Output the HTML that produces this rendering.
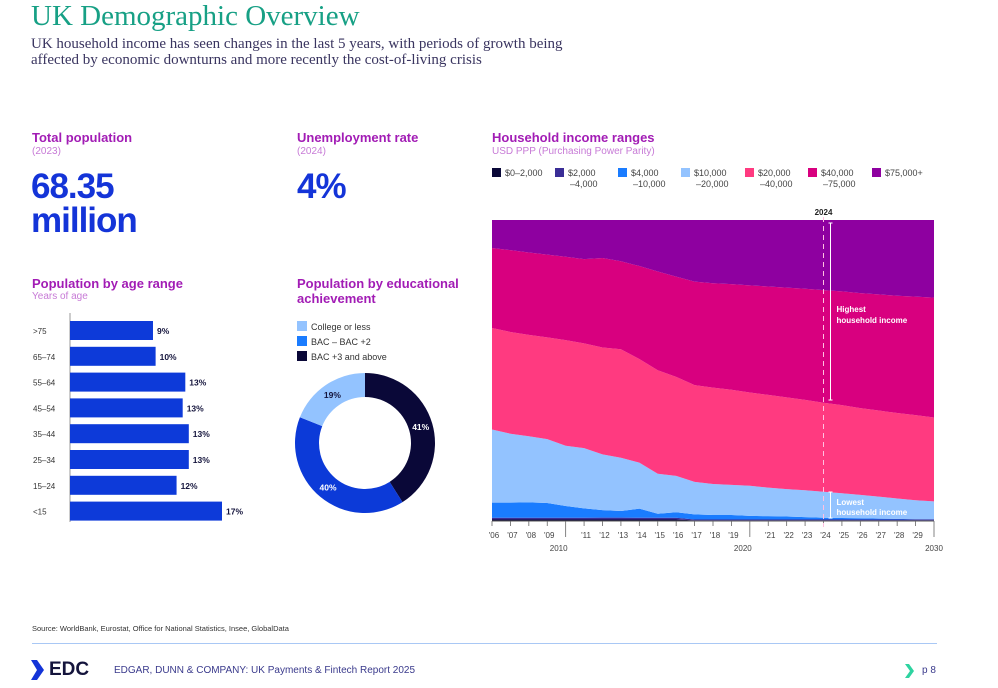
<!DOCTYPE html>
<html><head><meta charset="utf-8">
<style>
body{margin:0;width:998px;height:688px;background:#fff;position:relative;overflow:hidden;font-family:"Liberation Sans",sans-serif}
.a{position:absolute;white-space:nowrap}
.h{color:#a21cb5;font-weight:bold;font-size:13px}
.s{color:#c77ad6;font-size:10px}
.big{color:#1434d8;font-weight:bold;font-size:35px;line-height:34px;letter-spacing:-1px}
</style></head><body>
<div class="a" style="left:31px;top:0px;font-family:'Liberation Serif',serif;font-size:29px;color:#17a085">UK Demographic Overview</div>
<div class="a" style="left:31px;top:36px;font-family:'Liberation Serif',serif;font-size:15px;line-height:16px;color:#3a3560">UK household income has seen changes in the last 5 years, with periods of growth being<br>affected by economic downturns and more recently the cost-of-living crisis</div>

<div class="a h" style="left:32px;top:130px">Total population</div>
<div class="a s" style="left:32px;top:146px">(2023)</div>
<div class="a big" style="left:31px;top:170px">68.35<br>million</div>

<div class="a h" style="left:297px;top:130px">Unemployment rate</div>
<div class="a s" style="left:297px;top:146px">(2024)</div>
<div class="a big" style="left:297px;top:170px">4%</div>

<div class="a h" style="left:32px;top:276px">Population by age range</div>
<div class="a s" style="left:32px;top:291px">Years of age</div>
<svg class="a" id="ageSvg" style="left:0;top:310px" width="270" height="220"></svg>

<div class="a h" style="left:297px;top:276px;line-height:15px">Population by educational<br>achievement</div>
<svg class="a" id="eduSvg" style="left:280px;top:315px" width="180" height="210"></svg>

<div class="a h" style="left:492px;top:130px">Household income ranges</div>
<div class="a s" style="left:492px;top:146px">USD PPP (Purchasing Power Parity)</div>
<svg class="a" id="incSvg" style="left:480px;top:160px" width="480" height="400"></svg>

<div class="a" style="left:32px;top:624px;font-size:7.5px;color:#333">Source: WorldBank, Eurostat, Office for National Statistics, Insee, GlobalData</div>
<div class="a" style="left:32px;top:643px;width:905px;height:1px;background:#a9c8f5"></div>
<svg class="a" style="left:31px;top:660px" width="14" height="20"><polygon points="0,0 6,0 13,10 6,20 0,20 6,10" fill="#1434d8"/></svg>
<div class="a" style="left:49px;top:659px;font-size:19px;font-weight:bold;color:#14143c">EDC</div>
<div class="a" style="left:114px;top:665px;font-size:10px;color:#3a3a8c">EDGAR, DUNN &amp; COMPANY: UK Payments &amp; Fintech Report 2025</div>
<svg class="a" style="left:905px;top:664px" width="10" height="14"><polygon points="0,0 4,0 9,7 4,14 0,14 5,7" fill="#2ed3a0"/></svg>
<div class="a" style="left:922px;top:665px;font-size:10px;color:#3a3a8c">p 8</div>

<script>
const NS='http://www.w3.org/2000/svg';
function mk(p,t,a){const e=document.createElementNS(NS,t);for(const k in a)e.setAttribute(k,a[k]);p.appendChild(e);return e;}

// ---- Age bar chart ----
const ageCats=['>75','65–74','55–64','45–54','35–44','25–34','15–24','<15'];
const ageVals=[9.5,9.8,13.2,12.9,13.6,13.6,12.2,17.4];
const ageLabels=['9%','10%','13%','13%','13%','13%','12%','17%'];
const ageSvg=document.getElementById('ageSvg');
const ax0=70, axScale=152/17.4;
const ageY=i=>11+i*25.8;
let axl=mk(ageSvg,'line',{x1:ax0,y1:3,x2:ax0,y2:212,stroke:'#999','stroke-width':1});


ageCats.forEach((c,i)=>{
  const y=ageY(i),w=ageVals[i]*axScale;
  const r=mk(ageSvg,'rect',{x:ax0,y:y,width:w,height:19,fill:'#0d3ad9'});
  
  
  const t=mk(ageSvg,'text',{x:33,y:y+13,'font-size':8,fill:'#333'});t.textContent=c;
  
  
  const v=mk(ageSvg,'text',{x:ax0+w+4,y:y+13,'font-size':8.5,'font-weight':'bold',fill:'#14143c'});v.textContent=ageLabels[i];
  
  
});

// ---- Education donut ----
const eduCats=['BAC +3 and above','BAC – BAC +2','College or less'];
const eduVals=[41,40,19];
const eduColors=['#0a0838','#0c3ad8','#93c3ff'];
const eduLegendOrder=[2,1,0];
const eduLegendColors=['#93c3ff','#1a7cff','#0a0838'];
const eduSvg=document.getElementById('eduSvg');
eduLegendOrder.forEach((k,j)=>{
  const y=6+j*15;
  const r=mk(eduSvg,'rect',{x:17,y:y,width:10,height:10,fill:eduLegendColors[j]});
  
  
  const t=mk(eduSvg,'text',{x:31,y:y+9,'font-size':9,fill:'#333'});t.textContent=eduCats[k];
  
  
});
const cx=85,cy=128,R=70,r0=46;
let acc=0;const tot=eduVals.reduce((a,b)=>a+b,0);
eduVals.forEach((v,i)=>{
  const a0=acc/tot*2*Math.PI,a1=(acc+v)/tot*2*Math.PI;acc+=v;
  const P=(a,rr)=>[cx+rr*Math.sin(a),cy-rr*Math.cos(a)];
  const [x1,y1]=P(a0,R),[x2,y2]=P(a1,R),[x3,y3]=P(a1,r0),[x4,y4]=P(a0,r0);
  const lg=(a1-a0)>Math.PI?1:0;
  const p=mk(eduSvg,'path',{d:`M${x1},${y1}A${R},${R} 0 ${lg} 1 ${x2},${y2}L${x3},${y3}A${r0},${r0} 0 ${lg} 0 ${x4},${y4}Z`,fill:eduColors[i]});
  
  
  const am=(a0+a1)/2,[lx,ly]=P(am,58);
  const t=mk(eduSvg,'text',{x:lx,y:ly+3,'font-size':8.5,'font-weight':'bold','text-anchor':'middle',fill:i==2?'#14143c':'#fff'});t.textContent=v+'%';
  
  
});

// ---- Income stacked area ----
const years=[2006,2007,2008,2009,2010,2011,2012,2013,2014,2015,2016,2017,2018,2019,2020,2021,2022,2023,2024,2025,2026,2027,2028,2029,2030];
const incCats=['$0–2,000','$2,000|–4,000','$4,000|–10,000','$10,000|–20,000','$20,000|–40,000','$40,000|–75,000','$75,000+'];
const incColors=['#0a0838','#3a2d96','#1a7cff','#93c3ff','#ff3a80','#d8007f','#8e00a0'];
const s0=[0.5,0.5,0.5,0.5,0.5,0.5,0.5,0.5,0.5,0.5,0.5,0.2,0.2,0.2,0.2,0.2,0.2,0.2,0.2,0.2,0.2,0.2,0.2,0.2,0.2];
const s1=[0.6,0.6,0.6,0.6,0.6,0.6,0.6,0.6,0.6,0.6,0.6,0.3,0.3,0.3,0.3,0.3,0.3,0.3,0.3,0.3,0.3,0.3,0.3,0.3,0.3];
const s2=[5.0,5.0,5.1,4.9,3.9,3.1,2.5,2.2,3.0,1.3,1.8,1.7,1.5,1.5,1.2,1.1,1.0,0.8,0.6,0.5,0.4,0.3,0.2,0.1,0.1];
const s3=[24.3,22.9,22.0,21.2,20.0,20.0,18.5,17.7,15.3,13.3,12.1,10.8,10.3,10.0,10.0,9.5,9.1,8.9,8.6,8.2,7.8,7.3,6.8,6.3,5.9];
const s4=[33.7,33.8,33.7,33.8,35.1,34.8,35.5,36.0,34.4,34.4,32.9,32.2,32.0,31.6,31.0,30.8,30.5,30.0,29.6,29.3,28.8,28.6,28.4,28.3,27.9];
const s5=[26.6,27.2,27.4,27.5,27.7,28.0,29.7,29.2,30.9,32.8,33.3,34.4,34.7,35.1,35.6,36.0,36.5,36.9,37.4,37.8,38.2,38.6,39.0,39.4,39.8];
const s6=[9.3,10.0,10.8,11.5,12.2,13.0,12.6,13.7,15.3,17.1,18.8,20.5,21.0,21.3,21.7,22.1,22.5,22.8,23.3,23.7,24.3,24.7,25.2,25.5,25.8];
const series=[s0,s1,s2,s3,s4,s5,s6];
const decadeLabels=[2010,2020,2030];
const markerYear=2024;

const inc=document.getElementById('incSvg');
const X0=12,X1=454,Ytop=60,Ybot=361;
const xs=y=>X0+(y-years[0])/(years[years.length-1]-years[0])*(X1-X0);
const ys=p=>Ybot-p/100*(Ybot-Ytop);
const legX=[12,75,138,201,265,328,392];
incCats.forEach((c,i)=>{
  const r=mk(inc,'rect',{x:legX[i],y:8,width:9,height:9,fill:incColors[i]});
  
  
  const parts=c.split('|');
  parts.forEach((pt,j)=>{
    const t=mk(inc,'text',{x:legX[i]+13+(j?2:0),y:16+j*11,'font-size':9,fill:'#444'});t.textContent=pt;
    
    
  });
});
const cum=years.map(()=>0);
series.forEach((s,k)=>{
  const lo=years.map((_,i)=>{const tot=series.reduce((a,ss)=>a+ss[i],0);return cum[i]/tot*100;});
  years.forEach((_,i)=>cum[i]+=s[i]);
  const hi=years.map((_,i)=>{const tot=series.reduce((a,ss)=>a+ss[i],0);return cum[i]/tot*100;});
  let d='M'+years.map((y,i)=>xs(y)+','+ys(hi[i])).join('L');
  for(let i=years.length-1;i>=0;i--)d+='L'+xs(years[i])+','+ys(lo[i]);
  const p=mk(inc,'path',{d:d+'Z',fill:incColors[k]});
  
  
});
let bl=mk(inc,'line',{x1:X0,y1:Ybot,x2:X1,y2:Ybot,stroke:'#555','stroke-width':1});


years.forEach(y=>{
  const x=xs(y);
  const tl=mk(inc,'line',{x1:x,y1:Ybot,x2:x,y2:Ybot+(decadeLabels.includes(y)?16:5),stroke:'#666','stroke-width':0.8});
  
  
  if(!decadeLabels.includes(y)){
    const t=mk(inc,'text',{x:x+2,y:Ybot+17,'font-size':8,'text-anchor':'middle',fill:'#444'});t.textContent="'"+String(y).slice(2);
    
    
  }
});
decadeLabels.forEach(y=>{
  const x=xs(y);
  const t=mk(inc,'text',{x:y==2030?x:x-7,y:Ybot+30,'font-size':8,'text-anchor':'middle',fill:'#444'});t.textContent=y;
  
  
});
const mx=xs(markerYear);
let ml=mk(inc,'line',{x1:mx,y1:Ytop-3,x2:mx,y2:Ybot+6,stroke:'#ffc0e0','stroke-width':1,'stroke-dasharray':'5,4'});


let mt=mk(inc,'text',{x:mx,y:Ytop-5,'font-size':8,'font-weight':'bold','text-anchor':'middle',fill:'#222'});mt.textContent='2024';


const bx=mx+7;
[[63,240],[332,358]].forEach(([a,b],j)=>{
  const l=mk(inc,'line',{x1:bx,y1:a,x2:bx,y2:b,stroke:'#fff','stroke-width':1});
  
  
  [a,b].forEach(v=>{const c=mk(inc,'line',{x1:bx-2,y1:v,x2:bx+2,y2:v,stroke:'#fff','stroke-width':1});
    
    });
});
[['Highest',152],['household income',163],['Lowest',345],['household income',355]].forEach(([s,y])=>{
  const t=mk(inc,'text',{x:bx+6,y:y,'font-size':8,'font-weight':'bold',fill:'#fff'});t.textContent=s;
  
  
});
</script>
</body></html>
